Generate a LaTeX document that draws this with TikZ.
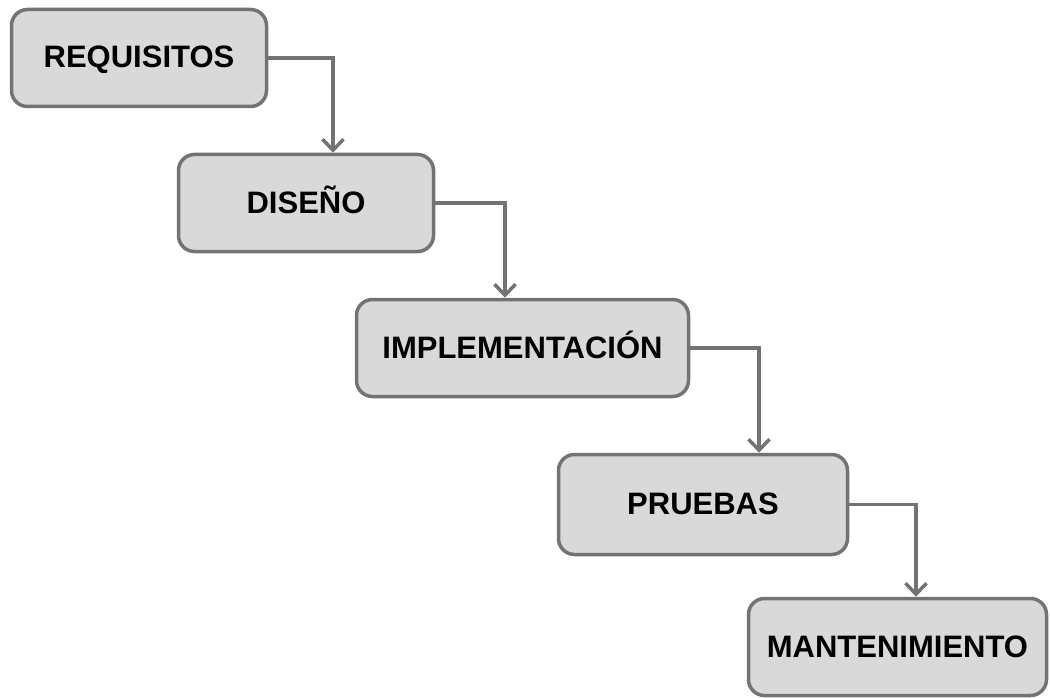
\documentclass[tikz,border=0pt]{standalone}
\usepackage{fontspec}
\setmainfont{Liberation Sans}
\usepackage{tikz}
\usetikzlibrary{arrows.meta,positioning}

\definecolor{boxfill}{HTML}{D9D9D9}
\definecolor{boxline}{HTML}{737373}

\begin{document}
\begin{tikzpicture}[x=1pt,y=-1pt]
% STYLES
\tikzset{%
    phase/.style={%
        rectangle,rounded corners=16pt,draw=boxline,line width=3.5pt,
        fill=boxfill,align=center,inner sep=0pt,minimum height=97pt,
        text height=20pt,text depth=-2pt,
        font=\fontsize{31}{35}\selectfont\bfseries
    },
    flow/.style={%
        draw=boxline,line width=3.5pt,
        -{Straight Barb[length=11pt,width=21pt,line width=3.5pt]}
    }
}
\useasboundingbox (0,0) rectangle (1050,698);
% Draw phases
\node [phase, minimum width=255pt] (req) at (139,58) {REQUISITOS};
\node [phase, minimum width=255pt] (dis) at (306,203) {DISEÑO};
\node [phase, minimum width=332pt] (imp) at (522.5,348) {IMPLEMENTACIÓN};
\node [phase, minimum width=289pt, minimum height=100pt] (pru) at (703,504.5) {PRUEBAS};
\node [phase, minimum width=298pt] (man) at (897.5,647) {MANTENIMIENTO};
% Draw the links between phases
\draw[flow] (req.east) -| ([xshift=27pt]dis.north);
\draw[flow] (dis.east) -| ([xshift=-17.5pt]imp.north);
\draw[flow] (imp.east) -| ([xshift=56pt]pru.north);
\draw[flow] (pru.east) -| ([xshift=18.5pt]man.north);
\end{tikzpicture}
\end{document}
